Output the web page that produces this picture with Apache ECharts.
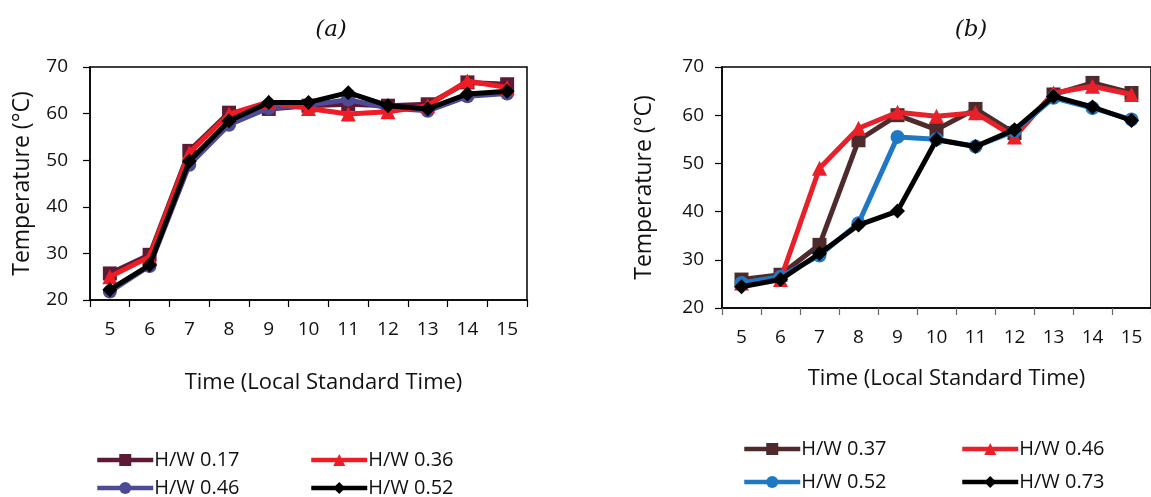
<!DOCTYPE html>
<html><head><meta charset="utf-8">
<script src="https://cdn.jsdelivr.net/npm/echarts@6/dist/echarts.min.js"></script>
<style>html,body{margin:0;padding:0;background:#fff}#c{width:1151px;height:497px}</style>
</head><body><div id="c"></div>
<script>
const hours = ['5','6','7','8','9','10','11','12','13','14','15'];
const yTicks = [20,30,40,50,60,70];
// Panel (a)
const aNames = ['H/W 0.17','H/W 0.36','H/W 0.46','H/W 0.52'];
const a017 = [25.7,29.7,52.0,60.2,61.0,61.7,62.0,61.7,62.0,66.7,66.3];
const a036 = [25.0,29.3,51.6,59.9,62.5,61.1,59.9,60.4,61.7,67.0,65.6];
const a046 = [21.8,27.3,49.0,57.6,61.2,61.8,63.0,61.2,60.6,63.7,64.3];
const a052 = [22.2,27.5,49.8,58.4,62.4,62.4,64.5,61.7,61.0,64.2,64.8];
// Panel (b)
const bNames = ['H/W 0.37','H/W 0.46','H/W 0.52','H/W 0.73'];
const b037 = [25.9,26.9,33.1,54.8,60.0,57.0,61.3,56.3,64.3,66.7,64.6];
const b046 = [25.2,25.9,49.0,57.3,60.6,59.8,60.5,55.5,64.6,66.0,64.3];
const b052 = [25.2,26.5,30.9,37.6,55.5,55.0,53.5,56.7,63.6,61.5,59.1];
const b073 = [24.4,25.9,31.3,37.2,40.1,54.9,53.5,57.0,63.9,61.7,58.9];

const FONT = 'Open Sans';
const TXT = '#111';
const chart = echarts.init(document.getElementById('c'));

function xAx(gi, nameGap, shift, tickColor){
  return {type:'category', gridIndex:gi, data:hours, boundaryGap:true,
    axisLine:{lineStyle:{color:'#000',width:1.5}},
    axisTick:{show:true, interval:0, length:7, lineStyle:{color:tickColor, width:1.2}},
    axisLabel:{fontSize:19, color:TXT, fontFamily:FONT, margin:20},
    name:'Time (Local Standard Time)', nameLocation:'middle', nameGap:nameGap,
    nameTextStyle:{fontSize:22, color:TXT, fontFamily:FONT, padding:[0,0,0,shift]}};
}
function yAx(gi, nameGap, labelMargin){
  return {type:'value', gridIndex:gi, min:yTicks[0], max:yTicks[yTicks.length-1], interval:10,
    axisLine:{show:true, lineStyle:{color:'#000',width:1.5}},
    axisTick:{show:true, length:7, lineStyle:{color:'#000', width:1.2}}, splitLine:{show:false},
    axisLabel:{fontSize:19, color:TXT, fontFamily:FONT, margin:labelMargin},
    name:'Temperature (°C)', nameLocation:'middle', nameGap:nameGap, nameRotate:90,
    nameTextStyle:{fontSize:23, color:TXT, fontFamily:FONT}};
}
function ser(name, data, gi, color, symbol, size, z){
  return {type:'line', name:name, data:data, xAxisIndex:gi, yAxisIndex:gi,
    symbol:symbol, symbolSize:size, showSymbol:true, z:z,
    lineStyle:{color:color, width:5}, itemStyle:{color:color, borderWidth:0},
    emphasis:{disabled:true}, animation:false};
}
function leg(name, left, top){
  return {data:[name], left:left, top:top, itemWidth:56, itemHeight:15, itemGap:0,
    padding:0, selectedMode:false,
    lineStyle:{width:4.5},
    formatter:function(n){ return n.replace(/\s\[[ab]\]$/, ''); },
    textStyle:{fontSize:20, color:TXT, fontFamily:FONT, padding:[0,0,0,-4]}};
}
const SA = ' [a]', SB = ' [b]';

const option = {
  animation:false,
  title:[
    {text:'(a)', left:326, top:14, textAlign:'center',
      textStyle:{fontFamily:'DejaVu Serif', fontStyle:'italic', fontWeight:'normal', fontSize:23, color:TXT}},
    {text:'(b)', left:966, top:14, textAlign:'center',
      textStyle:{fontFamily:'DejaVu Serif', fontStyle:'italic', fontWeight:'normal', fontSize:23, color:TXT}}
  ],
  grid:[
    {left:90, top:67, width:437, height:233, show:true, borderColor:'#000', borderWidth:1.5, backgroundColor:'transparent'},
    {left:722, top:67, width:435, height:241, show:true, borderColor:'#000', borderWidth:1.5, backgroundColor:'transparent'}
  ],
  xAxis:[xAx(0,72,30,'#000'), xAx(1,60,20,'#666')],
  yAxis:[yAx(0,56,22), yAx(1,66,18)],
  legend:[
    leg(aNames[0]+SA, 95, 450), leg(aNames[1]+SA, 309, 450),
    leg(aNames[2]+SA, 95, 478), leg(aNames[3]+SA, 309, 478),
    leg(bNames[0]+SB, 742, 439), leg(bNames[1]+SB, 960, 439),
    leg(bNames[2]+SB, 742, 472), leg(bNames[3]+SB, 960, 472)
  ],
  series:[
    ser(aNames[0]+SA, a017, 0, '#5e1a35', 'rect', 14, 2),
    ser(aNames[2]+SA, a046, 0, '#4e4b96', 'circle', 14, 3),
    ser(aNames[1]+SA, a036, 0, '#ee1c25', 'triangle', 15, 4),
    ser(aNames[3]+SA, a052, 0, '#000000', 'diamond', 15, 5),
    ser(bNames[0]+SB, b037, 1, '#4f2a2c', 'rect', 14, 2),
    ser(bNames[1]+SB, b046, 1, '#e8202a', 'triangle', 15, 3),
    ser(bNames[2]+SB, b052, 1, '#1f78c4', 'circle', 14, 4),
    ser(bNames[3]+SB, b073, 1, '#000000', 'diamond', 15, 5)
  ]
};
chart.setOption(option);
</script></body></html>
